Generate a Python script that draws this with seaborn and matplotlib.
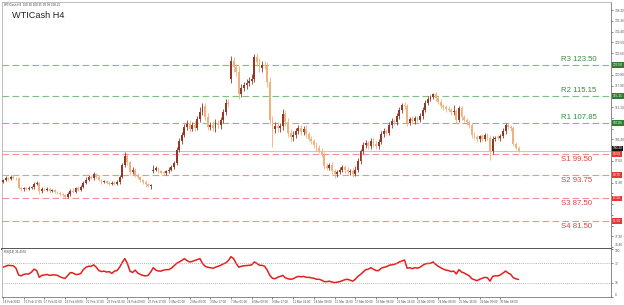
import numpy as np
import pandas as pd
import matplotlib
matplotlib.use("Agg")
import matplotlib.pyplot as plt
import seaborn as sns

# ---------------- data ----------------
closes = [
    92.4, 93.0, 92.8, 93.3, 93.1, 92.9, 90.3, 90.0, 90.2, 90.1,
    90.4, 90.6, 91.4, 91.7, 89.4, 90.0, 89.8, 90.1, 89.6, 89.7,
    89.2, 89.0, 88.6, 88.4, 87.9, 88.8, 89.6, 89.3, 90.3, 89.9,
    90.6, 91.8, 92.6, 93.3, 93.0, 94.0, 93.4, 92.5, 91.9, 92.1,
    91.7, 91.5, 91.8, 91.4, 92.0, 93.4, 96.5, 99.0, 97.2, 94.6,
    95.3, 93.8, 93.2, 92.4, 92.0, 91.3, 90.9, 91.2, 95.2, 95.6,
    94.9, 94.4, 94.3, 94.8, 95.3, 95.9, 97.0, 100.5, 103.0, 104.6,
    106.8, 107.6, 106.3, 107.4, 106.5, 108.9, 110.8, 112.3, 109.5, 106.8,
    107.3, 106.5, 107.9, 107.2, 108.5, 110.8, 113.2, 113.0, 124.5, 122.8,
    121.6, 115.6, 117.3, 118.0, 118.6, 119.2, 119.8, 125.5, 124.2, 122.6,
    123.4, 123.2, 118.8, 108.5, 106.2, 107.1, 106.4, 107.0, 110.3, 108.0,
    105.2, 104.0, 104.6, 105.8, 106.4, 105.5, 106.3, 104.8, 103.6, 102.9,
    101.8, 101.2, 100.4, 99.2, 96.2, 95.8, 96.4, 94.8, 94.0, 94.6,
    95.2, 95.9, 95.1, 94.6, 94.9, 94.1, 95.3, 97.6, 100.2, 101.8,
    102.4, 101.6, 103.0, 102.2, 101.5, 102.8, 104.8, 105.6, 105.2, 107.2,
    108.3, 108.0, 109.6, 111.2, 112.6, 112.3, 107.9, 108.8, 108.3, 109.1,
    108.7, 109.6, 111.4, 113.3, 114.4, 114.8, 115.5, 114.6, 113.6, 112.5,
    112.0, 111.6, 111.3, 110.7, 111.0, 108.7, 111.8, 109.4, 108.6, 108.1,
    107.2, 104.6, 104.0, 103.4, 104.2, 103.6, 104.5, 103.9, 100.2, 103.6,
    103.9, 103.8, 104.3, 105.6, 107.2, 106.8, 106.4, 102.3, 101.2, 100.3,
]
first_open = 92.0
gap_opens = {58: 94.8, 88: 119.6}

upper_wick = [
    0.4, 0.5, 0.3, 0.6, 0.4, 0.3, 0.5, 0.4, 0.3, 0.5, 0.4, 0.3, 0.5, 0.4, 0.3, 0.5, 0.3, 0.4, 0.5, 0.3,
    0.4, 0.3, 0.5, 0.4, 0.3, 0.5, 0.4, 0.6, 0.3, 0.5, 0.4, 0.5, 0.6, 0.4, 0.5, 0.7, 0.4, 0.5, 0.3, 0.4,
    0.3, 0.5, 0.4, 0.3, 0.5, 0.4, 0.6, 1.0, 0.8, 0.5, 0.7, 0.4, 0.5, 0.4, 0.3, 0.5, 0.4, 0.3, 1.2, 0.6,
    0.5, 0.4, 0.5, 0.4, 0.6, 0.5, 0.7, 0.8, 0.9, 0.7, 0.8, 1.0, 0.9, 0.8, 1.0, 0.9, 1.2, 0.8, 1.0, 0.9,
    0.8, 1.0, 0.9, 0.8, 1.0, 0.9, 1.2, 1.0, 1.4, 1.2, 1.0, 1.5, 1.0, 0.9, 1.1, 1.0, 1.2, 1.0, 1.3, 1.1,
    1.0, 1.2, 1.0, 1.4, 1.2, 1.0, 1.1, 0.9, 1.2, 1.0, 1.1, 0.9, 1.0, 0.8, 0.9, 1.0, 0.8, 0.9, 0.7, 0.8,
    0.7, 0.8, 0.6, 0.7, 0.9, 0.8, 0.7, 0.8, 0.6, 0.7, 0.8, 0.6, 0.7, 0.8, 0.6, 0.7, 0.9, 0.8, 0.7, 0.9,
    0.8, 0.7, 0.9, 0.8, 0.7, 0.6, 0.8, 0.9, 0.7, 0.8, 0.9, 0.7, 0.8, 0.9, 0.7, 0.8, 0.6, 0.7, 0.8, 0.6,
    0.7, 0.8, 0.6, 0.7, 0.8, 0.6, 0.5, 0.7, 0.6, 0.7, 0.5, 0.6, 0.7, 0.5, 1.6, 0.6, 0.7, 0.6, 0.5, 0.7,
    0.6, 0.5, 0.7, 0.6, 0.5, 0.7, 0.6, 0.5, 0.8, 0.6, 0.5, 0.7, 0.6, 0.8, 0.6, 0.7, 0.5, 0.6, 0.4, 0.3,
]
lower_wick = [
    0.4, 0.3, 0.5, 0.3, 0.4, 0.5, 0.3, 0.4, 0.5, 0.3, 0.4, 0.3, 0.5, 0.4, 0.6, 0.3, 0.4, 0.3, 0.5, 0.4,
    0.3, 0.4, 0.3, 0.5, 0.4, 0.3, 0.5, 0.4, 0.3, 0.4, 0.5, 0.3, 0.4, 0.5, 0.3, 0.4, 0.5, 0.3, 0.4, 0.3,
    0.4, 0.5, 0.3, 0.4, 0.3, 0.5, 0.4, 0.5, 0.6, 0.7, 0.5, 0.4, 0.5, 0.4, 0.5, 0.6, 0.4, 0.8, 0.5, 0.4,
    0.5, 0.4, 0.6, 0.5, 0.4, 0.5, 0.4, 0.6, 0.5, 0.7, 0.6, 0.8, 1.0, 0.7, 0.8, 0.6, 0.7, 0.8, 1.0, 0.9,
    0.8, 0.9, 1.0, 0.8, 0.9, 0.7, 0.8, 0.9, 1.0, 1.2, 1.0, 1.2, 0.9, 0.8, 1.0, 0.9, 0.8, 1.0, 0.9, 1.1,
    1.0, 0.9, 1.2, 1.0, 4.9, 1.0, 0.9, 1.1, 1.0, 0.9, 1.1, 1.0, 0.9, 0.8, 1.0, 0.9, 0.8, 0.9, 0.7, 0.8,
    0.7, 0.8, 0.7, 0.6, 0.8, 0.7, 0.6, 0.8, 1.0, 0.7, 0.6, 0.7, 0.8, 0.6, 0.7, 0.9, 0.6, 0.7, 0.8, 0.7,
    0.6, 0.8, 0.7, 0.9, 0.6, 0.7, 0.6, 0.8, 0.7, 0.6, 0.8, 0.7, 0.6, 0.7, 0.8, 0.6, 0.9, 0.7, 0.6, 0.8,
    0.7, 0.6, 0.8, 0.7, 0.6, 0.7, 0.6, 0.8, 0.7, 0.6, 0.7, 0.8, 0.6, 0.7, 0.6, 0.8, 0.6, 0.7, 0.6, 0.7,
    0.6, 0.7, 0.6, 0.8, 0.6, 0.7, 0.6, 0.7, 2.4, 0.6, 0.7, 0.6, 0.7, 0.6, 0.7, 0.6, 0.7, 0.6, 0.5, 0.4,
]

rsi = [
    62, 64, 66, 65.5, 65, 60, 46, 44, 47, 48,
    48, 52, 58, 55, 41, 45, 46, 47, 45, 46,
    46, 45, 42, 40, 39, 45, 51, 50, 47, 47,
    49, 57, 62, 64, 64, 67, 62, 55, 53, 54,
    52, 53, 49, 54, 55, 62, 72, 80, 70, 54,
    51, 56, 50, 47, 45, 44, 45, 52, 61, 56,
    54, 54, 56, 57, 57, 60, 65, 70, 73, 76,
    80, 76, 73, 74, 76, 78, 80, 70, 64, 62,
    61, 60, 62, 64, 66, 69, 71, 76, 84, 80,
    70, 62, 64, 65, 65.5, 66, 67, 73, 70, 66,
    66, 64, 56, 45, 39, 38, 41, 43, 45, 40,
    38, 37, 38, 41, 43, 42, 43, 41, 41, 40,
    39, 37, 37, 35, 32, 32, 33, 31, 30, 31,
    32, 34, 36, 37, 35, 33, 37, 43, 47, 52,
    57, 58, 61, 58, 55, 55, 60, 62, 63, 66,
    67, 68, 70, 73, 75, 77, 60, 61, 59, 61,
    60, 62, 66, 69, 70, 70, 73, 68, 64, 61,
    58, 56, 55, 53, 54, 48, 57, 52, 50, 47,
    44, 38, 36, 34, 37, 39, 41, 40, 33, 43,
    44, 44, 46, 50, 54, 50, 47, 40, 38, 36.5,
]

resistance_names = ["R3", "R2", "R1"]
resistance_levels = [123.50, 115.15, 107.85]
support_names = ["S1", "S2", "S3", "S4"]
support_levels = [99.50, 93.75, 87.50, 81.50]
current_price = 100.30

price_ticks = [74.40, 77.30, 80.20, 83.10, 86.00, 88.90, 91.80, 94.70, 97.60,
               100.50, 103.40, 106.30, 109.20, 112.10, 115.00, 117.90, 120.80,
               123.70, 126.60, 129.50, 132.40, 135.30, 138.20]
rsi_ticks = [0, 30, 70, 100]

date_labels = ["14 Feb 2022", "15 Feb 17:00", "17 Feb 01:00", "18 Feb 09:00",
               "21 Feb 17:00", "23 Feb 01:00", "24 Feb 09:00", "25 Feb 17:00",
               "1 Mar 01:00", "2 Mar 09:00", "3 Mar 17:00", "7 Mar 01:00",
               "8 Mar 09:00", "9 Mar 17:00", "11 Mar 01:00", "14 Mar 08:00",
               "15 Mar 16:00", "17 Mar 00:00", "18 Mar 08:00", "21 Mar 16:00",
               "23 Mar 00:00", "24 Mar 08:00", "25 Mar 16:00", "29 Mar 00:00",
               "30 Mar 08:00"]
date_label_step = 8

title = "WTICash H4"
header = "WTICash,H4  100.30 100.35 99.99 100.21"
rsi_header = "RSI(14) 36.4556"

# ---------------- build table ----------------
n = len(closes)
opens = [first_open] + closes[:-1]
for k, v in gap_opens.items():
    opens[k] = v
df = pd.DataFrame({"i": np.arange(n), "open": opens, "close": closes,
                   "uw": upper_wick, "lw": lower_wick, "rsi": rsi})
df["top"] = df[["open", "close"]].max(axis=1)
df["bot"] = df[["open", "close"]].min(axis=1)
df["high"] = df["top"] + df["uw"]
df["low"] = df["bot"] - df["lw"]
df["bull"] = df["close"] >= df["open"]

# ---------------- style ----------------
sns.set_theme(style="white")
plt.rcParams["font.family"] = ["Liberation Sans", "DejaVu Sans"]

W, H = 624, 305
fig = plt.figure(figsize=(W / 100, H / 100), dpi=100)
fig.patch.set_facecolor("white")

def px_axes(x0, y0, x1, y1):
    return fig.add_axes([x0 / W, 1 - y1 / H, (x1 - x0) / W, (y1 - y0) / H])

ax = px_axes(2, 2, 611, 249)
ax2 = px_axes(2, 249, 611, 297)

xlim = (-0.4, 234.7)
bull_col = "#933826"
bear_col = "#f4b07a"

# candles
for bull, col in [(True, bull_col), (False, bear_col)]:
    d = df[df["bull"] == bull]
    ax.vlines(d["i"], d["low"], d["high"], color=col, linewidth=0.6, zorder=3)
    ax.bar(d["i"], np.maximum(d["top"] - d["bot"], 0.2), bottom=d["bot"],
           width=0.72, color=col, edgecolor="none", zorder=4)

ax.set_xlim(*xlim)
ax.set_ylim(73.9, 140.4)

box_levels = resistance_levels + support_levels + [current_price + 0.7]

# levels
for name, lv in zip(resistance_names, resistance_levels):
    ax.axhline(lv, color="#7fbf7f", linewidth=0.8, dashes=(6, 3), zorder=2)
    ax.text(0.918, lv + 0.5, f"{name} {lv:.2f}", transform=ax.get_yaxis_transform(),
            ha="left", va="bottom", fontsize=5.6, color="#3d8a3d", zorder=6)
    ax.text(1.003, lv, f"{lv:.2f}", transform=ax.get_yaxis_transform(), ha="left",
            va="center", fontsize=2.3, color="white", clip_on=False,
            bbox=dict(boxstyle="square,pad=0.25", fc="#2e7d32", ec="none"))
for name, lv in zip(support_names, support_levels):
    ax.axhline(lv, color="#f29090", linewidth=0.8, dashes=(6, 3), zorder=2)
    ax.text(0.918, lv - 0.5, f"{name} {lv:.2f}", transform=ax.get_yaxis_transform(),
            ha="left", va="top", fontsize=5.6, color="#e04040", zorder=6)
    ax.text(1.003, lv, f"{lv:.2f}", transform=ax.get_yaxis_transform(), ha="left",
            va="center", fontsize=2.3, color="white", clip_on=False,
            bbox=dict(boxstyle="square,pad=0.25", fc="#e53935", ec="none"))
ax.axhline(current_price, color="#c8c8c8", linewidth=0.8, zorder=2)
ax.text(1.003, current_price + 0.7, f"{current_price:.2f}", transform=ax.get_yaxis_transform(),
        ha="left", va="center", fontsize=2.3, color="white", clip_on=False,
        bbox=dict(boxstyle="square,pad=0.25", fc="#111111", ec="none"))

# price scale: labels hidden behind the level boxes are not drawn (as in the reference)
ax.yaxis.tick_right()
ax.set_yticks(price_ticks)
ax.set_yticklabels([f"{t:.2f}" if min(abs(t - b) for b in box_levels) > 1.6 else ""
                    for t in price_ticks])
ax.tick_params(axis="y", labelsize=2.3, length=1.5, width=0.5, pad=1.5,
               colors="#555555", right=True)
for lbl, t in zip(ax.get_yticklabels(), price_ticks):
    if t == price_ticks[0]:
        lbl.set_va("bottom")
ax.set_xticks([])
for s in ["left", "top"]:
    ax.spines[s].set_color("#b0b0b0")
    ax.spines[s].set_linewidth(0.6)
ax.spines["right"].set_color("#777777")
ax.spines["right"].set_linewidth(0.6)
ax.spines["bottom"].set_color("#555555")
ax.spines["bottom"].set_linewidth(1.4)

ax.text(0.016, 0.945, title, transform=ax.transAxes, fontsize=6.6, color="#222222",
        ha="left", va="center")
ax.text(0.004, 0.99, header, transform=ax.transAxes, fontsize=2.2, color="#444444",
        ha="left", va="center")

# RSI
sns.lineplot(x=df["i"], y=df["rsi"], ax=ax2, color="#e3201c", linewidth=1.1)
for lv in [70, 30]:
    ax2.axhline(lv, color="#999999", linewidth=0.6, linestyle=(0, (1, 1.5)))
ax2.set_xlim(*xlim)
ax2.set_ylim(0, 100)
ax2.set_xlabel("")
ax2.set_ylabel("")
ax2.yaxis.tick_right()
ax2.set_yticks(rsi_ticks)
ax2.set_yticklabels([str(t) for t in rsi_ticks])
ax2.tick_params(axis="y", labelsize=2.3, length=1.5, width=0.5, pad=1.5,
                colors="#555555", right=True)
for lbl, t in zip(ax2.get_yticklabels(), rsi_ticks):
    if t == 100:
        lbl.set_va("top")
    elif t == 0:
        lbl.set_va("bottom")
tick_pos = [k * date_label_step for k in range(len(date_labels))]
ax2.set_xticks(tick_pos)
ax2.set_xticklabels(date_labels, ha="left")
ax2.tick_params(axis="x", labelsize=2.2, length=1.5, width=0.5, pad=1.0,
                colors="#555555", bottom=True)
for s in ["left", "top"]:
    ax2.spines[s].set_color("#b0b0b0")
    ax2.spines[s].set_linewidth(0.6)
ax2.spines["top"].set_visible(False)
ax2.spines["right"].set_color("#777777")
ax2.spines["right"].set_linewidth(0.6)
ax2.spines["bottom"].set_color("#777777")
ax2.spines["bottom"].set_linewidth(0.6)
ax2.text(0.004, 0.93, rsi_header, transform=ax2.transAxes, fontsize=2.2,
         color="#444444", ha="left", va="center")

fig.savefig("out.png", dpi=100, facecolor="white")
